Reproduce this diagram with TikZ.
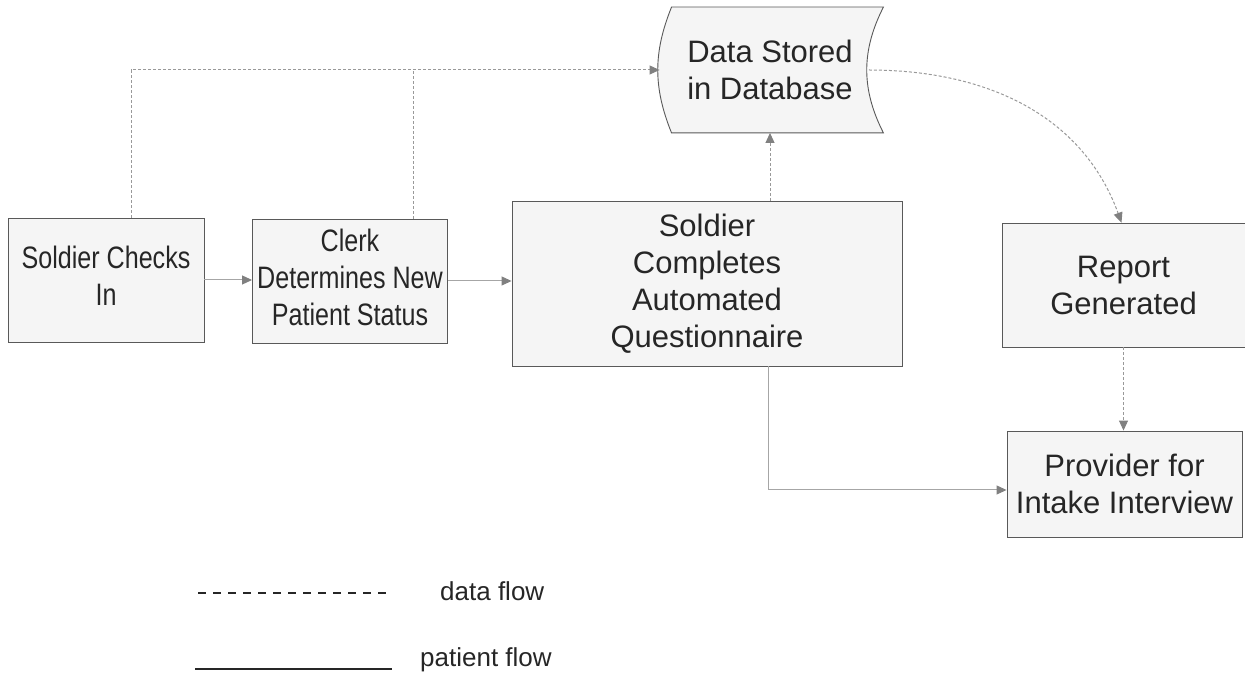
\documentclass[tikz,border=0pt]{standalone}
\usepackage{fontspec}
\usepackage{graphicx}
\setmainfont{Liberation Sans}
\usepackage{tikz}
\usetikzlibrary{arrows.meta}
\usetikzlibrary{backgrounds}

\newcommand{\narrowtext}[1]{\scalebox{0.81}[1]{\begin{tabular}{@{}c@{}}#1\end{tabular}}}

\begin{document}
\begin{tikzpicture}[x=1pt,y=1pt,
		box/.style={rectangle,draw=black!65,fill=black!4,line width=0.9pt,
			align=center,text=black!85,inner sep=0pt,
			font=\fontsize{31}{37}\selectfont},
		data/.style={draw=black!40,line width=1pt,dash pattern=on 3pt off 2pt},
		patient/.style={draw=black!35,line width=1pt},
		tip/.style={-{Triangle[length=10pt,width=9pt,fill=black!50,color=black!50]}},
		legend/.style={font=\fontsize{26}{30}\selectfont,text=black!85,anchor=west,inner sep=0pt}]
	\useasboundingbox (0,0) rectangle (1245,675);

	\node[box,minimum width=196pt,minimum height=124pt] (checkin) at (106,395)
		{\narrowtext{Soldier Checks\\In}};
	\node[box,minimum width=195pt,minimum height=124pt] (clerk) at (350,394)
		{\narrowtext{Clerk\\Determines New\\Patient Status}};
	\node[box,minimum width=390pt,minimum height=165pt] (quest) at (707,391.5)
		{Soldier\\Completes\\Automated\\Questionnaire};
	\node[box,minimum width=243pt,minimum height=124pt] (report) at (1123.5,390)
		{Report\\Generated};
	\node[box,minimum width=235pt,minimum height=106pt] (provider) at (1124.5,191)
		{Provider for\\Intake Interview};
	\node[box,draw=none,fill=none,minimum width=211pt,minimum height=125pt] (db) at (770,605)
		{Data Stored\\in Database};

	% stored data outline
	\begin{scope}[on background layer]
	\path[draw=black!65,fill=black!4,line width=0.9pt]
		([xshift=7.5pt]db.north west) -- ([xshift=7.5pt]db.north east)
		to[bend right=27] ([xshift=7.5pt]db.south east)
		-- ([xshift=7.5pt]db.south west)
		to[bend left=22] cycle;
	\end{scope}

	\coordinate (dbin) at ([xshift=-4.5pt]db.west);
	\coordinate (dbout) at ([xshift=-7pt]db.east);
	\coordinate (checktap) at ([xshift=25pt]checkin.north);
	\coordinate (clerktap) at ([xshift=63pt]clerk.north);

	% data flow
	\draw[data,tip] (checktap) |- (dbin);
	\draw[data] (clerktap) -- (clerktap |- dbin);
	\draw[data,tip] ([xshift=63pt]quest.north) -- (db.south);
	\draw[data,tip] (dbout) to[out=0,in=110] ([xshift=-2pt]report.north);
	\draw[data,tip] (report.south) -- (report.south |- provider.north);

	% patient flow
	\draw[patient,tip] (checkin.east) -- (checkin.east -| clerk.west);
	\draw[patient,tip] (clerk.east) -- (clerk.east -| quest.west);
	\draw[patient,tip] ([xshift=61pt]quest.south) |- ([yshift=-6pt]provider.west);

	% legend
	\coordinate (dataA) at (198,82);
	\coordinate (dataB) at (388,82);
	\coordinate (patA) at (195,6);
	\coordinate (patB) at (392,6);
	\draw[black!85,line width=1.6pt,dash pattern=on 8pt off 7pt] (dataA) -- (dataB);
	\draw[black!85,line width=1.8pt] (patA) -- (patB);
	\node[legend] (datatext) at (440,84) {data flow};
	\node[legend] (pattext) at (420,15) {patient flow};
\end{tikzpicture}
\end{document}
